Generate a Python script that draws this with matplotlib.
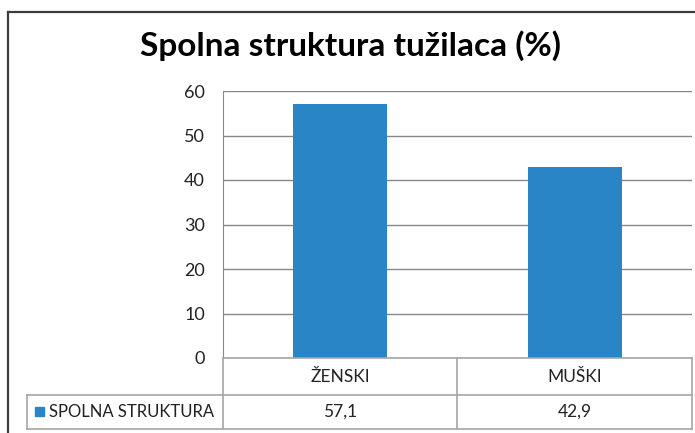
import matplotlib.pyplot as plt
from matplotlib.lines import Line2D
from matplotlib.patches import Rectangle

categories = ["ŽENSKI", "MUŠKI"]
values = [57.1, 42.9]
value_labels = ["57,1", "42,9"]
series_name = "SPOLNA STRUKTURA"
title = "Spolna struktura tužilaca (%)"

W, H = 695, 433
bar_color = "#2A85C7"
grid_color = "#878787"
table_color = "#A6A6A6"
font = "Lato"


def fx(px):
    return px / W


def fy(py):
    return 1 - py / H


fig = plt.figure(figsize=(W / 100, H / 100), dpi=100)

# plot area in pixel coords
left, right, top, bottom = 223, 692, 91, 358
ax = fig.add_axes([fx(left), fy(bottom), fx(right - left), fy(top) - fy(bottom)])
x = range(len(categories))
ax.bar(x, values, width=0.4, color=bar_color, zorder=3)
ax.set_xlim(-0.5, len(categories) - 0.5)
ax.set_ylim(0, 60)
ax.set_yticks(range(0, 61, 10))
ax.set_xticks([])
ax.yaxis.grid(True, color=grid_color, linewidth=1)
ax.set_axisbelow(True)
for s in ["top", "right", "bottom"]:
    ax.spines[s].set_visible(False)
ax.spines["left"].set_color(grid_color)
ax.tick_params(axis="y", length=0, pad=13, labelsize=13)
for lab in ax.get_yticklabels():
    lab.set_fontfamily(font)
    lab.set_color("#222222")

# data table
def fline(x0, x1, y0, y1, color=table_color, lw=1.2):
    fig.add_artist(Line2D([fx(x0), fx(x1)], [fy(y0), fy(y1)], color=color, lw=lw))

row1, row2, row3 = 358, 395, 429
col0, col1, col2, col3 = 27, 223, 457, 692
fline(col1, col3, row1, row1)
fline(col0, col3, row2, row2)
fline(col0, col3, row3, row3)
fline(col0, col0, row2, row3)
fline(col1, col1, row1, row3)
fline(col2, col2, row1, row3)
fline(col3, col3, row1, row3)

centers = [(col1 + col2) / 2, (col2 + col3) / 2]
for cx, cat, val in zip(centers, categories, value_labels):
    fig.text(fx(cx), fy((row1 + row2) / 2), cat, ha="center", va="center",
             fontsize=12.5, family=font, color="#222222")
    fig.text(fx(cx), fy((row2 + row3) / 2), val, ha="center", va="center",
             fontsize=12.5, family=font, color="#222222")

fig.add_artist(Rectangle((fx(35), fy(416)), fx(9), fy(407) - fy(416),
                         color=bar_color, transform=fig.transFigure))
fig.text(fx(49), fy((row2 + row3) / 2), series_name, ha="left", va="center",
         fontsize=12, family=font, color="#222222")

# outer chart border
fline(8, 695, 12, 12, color="#3C3C3C", lw=1.6)
fline(8, 8, 12, 433, color="#3C3C3C", lw=1.6)

fig.text(fx(351), fy(46), title, ha="center", va="center",
         fontsize=24, fontweight="bold", family=font, color="black")

fig.savefig("out.png", dpi=100)
